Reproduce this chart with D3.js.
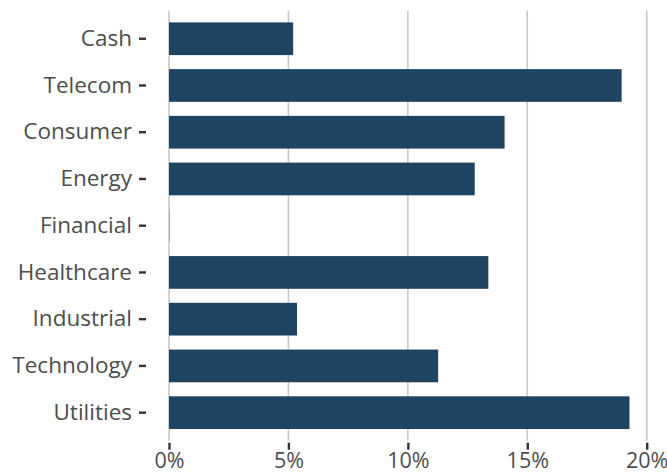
<!DOCTYPE html>
<html>
<head>
<meta charset="utf-8">
<script src="https://cdn.jsdelivr.net/npm/d3@7"></script>
<style>
  body { margin: 0; background: #fff; }
  text { font-family: "Open Sans", "Noto Sans", sans-serif; }
</style>
</head>
<body>
<svg width="667" height="474"></svg>
<script>
// sector weights
var sectors = ["Cash", "Telecom", "Consumer", "Energy", "Financial", "Healthcare", "Industrial", "Technology", "Utilities"];
var weights = [0.052, 0.1895, 0.1405, 0.128, 0.0001, 0.1337, 0.0536, 0.1127, 0.1928];
var xTicks = [0, 0.05, 0.10, 0.15, 0.20];

var svg = d3.select("svg");

// panel edges (note: "top" is taken by window.top)
var panelL = 169, panelR = 646.7, panelT = 10.7, panelB = 440.7;

var x = d3.scaleLinear().domain([0, 0.2]).range([panelL, panelR]);
var y = d3.scaleBand()
    .domain(sectors)
    .range([panelT, panelB])
    .paddingInner(0.3)
    .paddingOuter(0.25);

var data = sectors.map((s, i) => ({ name: s, value: weights[i] }));

// vertical gridlines
svg.append("g")
    .selectAll("line")
    .data(xTicks)
    .enter()
    .append("line")
    .attr("x1", d => x(d))
    .attr("x2", d => x(d))
    .attr("y1", panelT)
    .attr("y2", panelB)
    .style("stroke", "#c8c8c8")
    .attr("stroke-width", 1.6);

// bars
svg.append("g")
    .selectAll("rect")
    .data(data)
    .enter()
    .append("rect")
    .attr("x", x(0))
    .attr("y", d => y(d.name))
    .attr("width", d => x(d.value) - x(0))
    .attr("height", y.bandwidth())
    .attr("fill", "#1f4462");

// x axis: ticks below the panel, labels under them
var xAxis = svg.append("g")
    .attr("transform", "translate(0," + (panelB + 2) + ")")
    .call(d3.axisBottom(x).tickValues(xTicks).tickFormat(d3.format(".0%")).tickSize(7).tickPadding(3));
xAxis.select(".domain").remove();
xAxis.selectAll(".tick line").style("stroke", "#333").attr("stroke-width", 2.4);
xAxis.selectAll(".tick text")
    .style("font-size", "21.5px")
    .style("fill", "#4d4d4d")
    .style("font-family", "'Open Sans', 'Noto Sans', sans-serif");

// y axis: small dashes off to the left of the panel
var yAxis = svg.append("g")
    .attr("transform", "translate(" + (panelL - 23) + ",0)")
    .call(d3.axisLeft(y).tickSize(7).tickPadding(7));
yAxis.select(".domain").remove();
yAxis.selectAll(".tick line")
    .style("stroke", "#333").attr("stroke-width", 2.4);
yAxis.selectAll(".tick text")
    .style("font-size", "22.5px")
    .style("fill", "#4d4d4d")
    .style("font-family", "'Open Sans', 'Noto Sans', sans-serif");
</script>
</body>
</html>
